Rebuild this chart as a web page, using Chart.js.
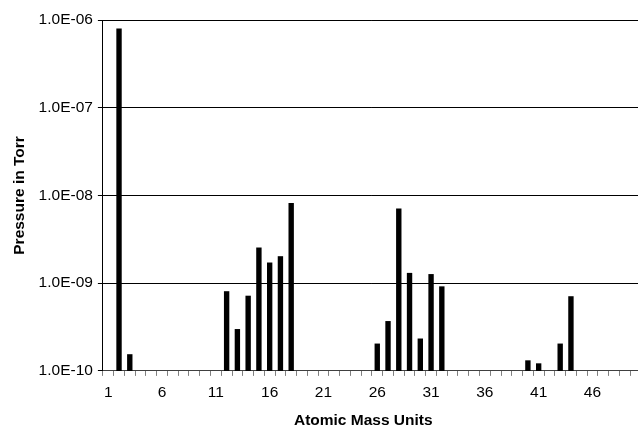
<!DOCTYPE html>
<html>
 <head>
  <meta charset="utf-8" />
  <title></title>
  <style>
   body { margin: 0; background: #fff; overflow: hidden; }
  </style>
 </head>
 <body>
    <canvas id="amuChart" width="643" height="428"></canvas>

    <script src="https://cdn.jsdelivr.net/npm/chart.js@4/dist/chart.umd.min.js"></script>
  <script>

// atomic mass units 1..50
var amu = [];
for (var i = 1; i <= 50; i++) amu.push(String(i));

// pressure readings (Torr), null = nothing shown
var pressure = [
  null, 8.0e-7, 1.55e-10, null, null, null, null, null, null, null,
  null, 8.1e-10, 3.0e-10, 7.2e-10, 2.55e-9, 1.72e-9, 2.03e-9, 8.2e-9, null, null,
  null, null, null, null, null, 2.05e-10, 3.7e-10, 7.1e-9, 1.31e-9, 2.34e-10,
  1.27e-9, 9.2e-10, null, null, null, null, null, null, null, 1.32e-10,
  1.22e-10, null, 2.05e-10, 7.1e-10, null, null, null, null, null, null
];

var yTickValues = [1e-10, 1e-9, 1e-8, 1e-7, 1e-6];
var yTickLabels = ['1.0E-10', '1.0E-09', '1.0E-08', '1.0E-07', '1.0E-06'];

var font = 'Liberation Sans, Arial, sans-serif';
Chart.defaults.font.family = font;
Chart.defaults.color = '#000';

var ctx = document.getElementById('amuChart');
var chart = new Chart(ctx, {
    type: 'bar',
    data: {
        labels: amu,
        datasets: [{
            data: pressure,
            backgroundColor: '#000',
            barPercentage: 0.5,
            categoryPercentage: 1.0
        }]
    },
    options: {
        responsive: false,
        animation: false,
        layout: { padding: { top: 20, right: 0, left: 10, bottom: 0 } },
        plugins: { legend: { display: false }, tooltip: { enabled: false } },
        scales: {
            x: {
                offset: true,
                grid: { offset: true, drawOnChartArea: false, tickLength: 5, color: '#808080' },
                border: { color: '#404040' },
                ticks: {
                    autoSkip: false, maxRotation: 0, padding: 7.5,
                    font: { size: 15.5 },
                    callback: function (v, i) { return i % 5 === 0 ? amu[i] : ''; }
                },
                // trailing spaces nudge the centred title a little left, like the original
                title: { display: true, text: 'Atomic Mass Units    ', font: { size: 15.5, weight: 'bold', lineHeight: 1 }, padding: { top: 3, bottom: 0 } }
            },
            y: {
                type: 'logarithmic',
                min: 1e-10,
                max: 1e-6,
                afterBuildTicks: function (scale) {
                    scale.ticks = yTickValues.map(function (v) { return { value: v }; });
                },
                grid: { color: '#000', tickLength: 5 },
                border: { color: '#000' },
                ticks: {
                    padding: 5,
                    font: { size: 15.5 },
                    callback: function (v) { return yTickLabels[yTickValues.indexOf(v)]; }
                },
                title: { display: true, text: 'Pressure in Torr', font: { size: 15.5, weight: 'bold' }, padding: { top: 0, bottom: 5 } }
            }
        }
    }
});

  </script>

</body>
</html>
